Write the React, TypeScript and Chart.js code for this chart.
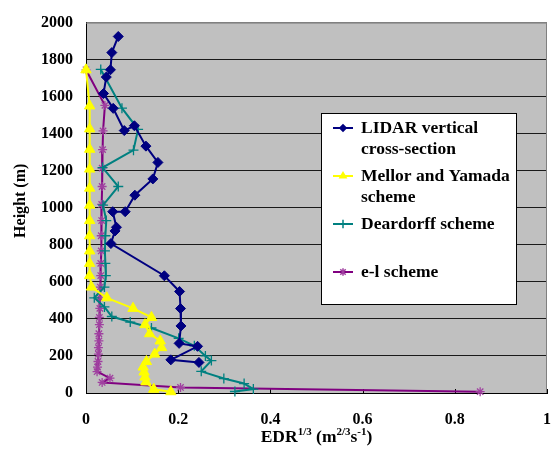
import React, { useEffect, useRef } from "react";
import { Chart, registerables } from "chart.js";

Chart.register(...registerables);

// ---- Data (EDR^1/3 in m^2/3 s^-1, height in m) ----
const lidarEdr = [0.070, 0.056, 0.053, 0.044, 0.038, 0.059, 0.083, 0.105, 0.130, 0.156, 0.145, 0.106, 0.085, 0.058, 0.066, 0.063, 0.054, 0.170, 0.203, 0.205, 0.206, 0.202, 0.242, 0.184, 0.245];
const lidarHeight = [1925, 1838, 1745, 1706, 1617, 1537, 1417, 1443, 1333, 1245, 1156, 1068, 979, 979, 895, 875, 807, 633, 548, 456, 362, 268, 252, 179, 165];

const mellorEdr = [0, 0.008, 0.008, 0.008, 0.008, 0.008, 0.008, 0.008, 0.008, 0.008, 0.008, 0.008, 0.012, 0.045, 0.102, 0.142, 0.128, 0.138, 0.161, 0.164, 0.149, 0.131, 0.124, 0.126, 0.128, 0.130, 0.147, 0.184];
const mellorHeight = [1745, 1550, 1426, 1316, 1209, 1106, 1014, 931, 849, 767, 700, 634, 572, 514, 457, 408, 369, 320, 281, 245, 210, 170, 140, 113, 86, 60, 20, 7];

const deardorffEdr = [0.032, 0.078, 0.113, 0.103, 0.036, 0.070, 0.037, 0.044, 0.042, 0.041, 0.042, 0.043, 0.040, 0.018, 0.040, 0.056, 0.096, 0.142, 0.201, 0.235, 0.259, 0.272, 0.250, 0.299, 0.343, 0.363, 0.323];
const deardorffHeight = [1747, 1538, 1424, 1311, 1217, 1115, 1014, 931, 849, 767, 700, 634, 572, 514, 465, 413, 383, 351, 295, 255, 200, 175, 117, 78, 51, 21, 8];

const elEdr = [0, 0.041, 0.037, 0.036, 0.035, 0.035, 0.034, 0.034, 0.033, 0.033, 0.032, 0.032, 0.031, 0.030, 0.030, 0.029, 0.029, 0.028, 0.028, 0.027, 0.027, 0.026, 0.025, 0.024, 0.052, 0.035, 0.205, 0.855];
const elHeight = [1745, 1553, 1415, 1314, 1214, 1115, 1018, 931, 849, 767, 700, 634, 572, 514, 457, 408, 369, 320, 281, 245, 210, 170, 140, 115, 80, 57, 30, 7];

const seriesNames = [
  ["LIDAR vertical", "cross-section"],
  ["Mellor and Yamada", "scheme"],
  ["Deardorff scheme"],
  ["e-l scheme"],
];
const seriesColors = ["#000080", "#FFFF00", "#008080", "#800080"];
const markerColors = ["#000080", "#FFFF00", "#008080", "#a040a0"];
const markerStyles = ["rectRot", "triangle", "cross", "star"];
const markerRadius = [5, 6, 5, 4.5];

const xTicks = [0, 0.2, 0.4, 0.6, 0.8, 1];
const yMin = 0, yMax = 2000, yStep = 200;

const FONT = "'Liberation Serif', 'Times New Roman', serif";

const toPoints = (xs: number[], ys: number[]) => xs.map((x, i) => ({ x, y: ys[i] }));

function drawMarker(ctx: CanvasRenderingContext2D, style: string, x: number, y: number, r: number, color: string) {
  ctx.save();
  ctx.fillStyle = color;
  ctx.strokeStyle = color;
  ctx.lineWidth = 1.5;
  ctx.beginPath();
  if (style === "rectRot") {
    ctx.moveTo(x, y - r); ctx.lineTo(x + r, y); ctx.lineTo(x, y + r); ctx.lineTo(x - r, y); ctx.closePath();
    ctx.fill();
  } else if (style === "triangle") {
    const h = r * 0.866;
    ctx.moveTo(x, y - r); ctx.lineTo(x + h, y + r / 2); ctx.lineTo(x - h, y + r / 2); ctx.closePath();
    ctx.fill();
  } else if (style === "cross") {
    ctx.moveTo(x - r, y); ctx.lineTo(x + r, y); ctx.moveTo(x, y - r); ctx.lineTo(x, y + r);
    ctx.stroke();
  } else {
    const d = r * 0.707;
    ctx.moveTo(x, y - r); ctx.lineTo(x, y + r);
    ctx.moveTo(x - d, y - d); ctx.lineTo(x + d, y + d); ctx.moveTo(x - d, y + d); ctx.lineTo(x + d, y - d);
    ctx.stroke();
  }
  ctx.restore();
}

const decorPlugin = {
  id: "decor",
  beforeDraw(chart: any) {
    const { ctx, chartArea: a } = chart;
    ctx.save();
    ctx.fillStyle = "#ffffff";
    ctx.fillRect(0, 0, chart.width, chart.height);
    ctx.fillStyle = "#C0C0C0";
    ctx.fillRect(a.left, a.top, a.right - a.left, a.bottom - a.top);
    ctx.restore();
  },
  beforeDatasetsDraw(chart: any) {
    const { ctx, chartArea: a, scales } = chart;
    ctx.save();
    ctx.strokeStyle = "#808080";
    ctx.lineWidth = 1;
    ctx.beginPath();
    ctx.moveTo(a.left, a.top + 0.5);
    ctx.lineTo(a.right - 0.5, a.top + 0.5);
    ctx.lineTo(a.right - 0.5, a.bottom);
    ctx.stroke();
    // inside tick marks on x axis
    ctx.strokeStyle = "#000";
    ctx.beginPath();
    xTicks.forEach((v) => {
      const px = Math.round(scales.x.getPixelForValue(v)) + 0.5;
      ctx.moveTo(px, a.bottom);
      ctx.lineTo(px, a.bottom - 4);
    });
    ctx.stroke();
    ctx.restore();
  },
  afterDraw(chart: any) {
    const { ctx, chartArea: a } = chart;
    ctx.save();
    // Legend box
    const lx = 321, ly = 113, lw = 196, lh = 192;
    ctx.fillStyle = "#ffffff";
    ctx.fillRect(lx, ly, lw, lh);
    ctx.strokeStyle = "#000";
    ctx.lineWidth = 1;
    ctx.strokeRect(lx + 0.5, ly + 0.5, lw - 1, lh - 1);
    ctx.font = `bold 17.5px ${FONT}`;
    ctx.textBaseline = "middle";
    ctx.textAlign = "left";
    seriesNames.forEach((lines, i) => {
      const cy = ly + 15 + i * 48;
      ctx.strokeStyle = seriesColors[i];
      ctx.lineWidth = 2;
      ctx.beginPath();
      ctx.moveTo(lx + 12, cy);
      ctx.lineTo(lx + 32, cy);
      ctx.stroke();
      drawMarker(ctx, markerStyles[i], lx + 22, cy, markerRadius[i] * 0.85, markerColors[i]);
      ctx.fillStyle = "#000";
      lines.forEach((t, j) => ctx.fillText(t, lx + 40, cy + j * 21.5));
    });

    // X axis title with superscripts
    const parts: [string, boolean][] = [["EDR", false], ["1/3", true], [" (m", false], ["2/3", true], ["s", false], ["-1", true], [")", false]];
    const big = `bold 17.5px ${FONT}`, small = `bold 11px ${FONT}`;
    let total = 0;
    parts.forEach(([t, sup]) => { ctx.font = sup ? small : big; total += ctx.measureText(t).width; });
    let x = (a.left + a.right) / 2 - total / 2;
    const base = 442;
    ctx.textBaseline = "alphabetic";
    ctx.fillStyle = "#000";
    parts.forEach(([t, sup]) => {
      ctx.font = sup ? small : big;
      ctx.fillText(t, x, sup ? base - 7 : base);
      x += ctx.measureText(t).width;
    });

    // Y axis title
    ctx.translate(21, (a.top + a.bottom) / 2 - 7);
    ctx.rotate(-Math.PI / 2);
    ctx.font = `bold 16px ${FONT}`;
    ctx.textAlign = "center";
    ctx.textBaseline = "middle";
    ctx.fillText("Height (m)", 0, 0);
    ctx.restore();
  },
};

export default function App() {
  const canvasRef = useRef<HTMLCanvasElement | null>(null);

  useEffect(() => {
    if (!canvasRef.current) return;
    const mk = (label: string, xs: number[], ys: number[], i: number) => ({
      label,
      data: toPoints(xs, ys),
      showLine: true,
      borderColor: seriesColors[i],
      backgroundColor: markerColors[i],
      borderWidth: 2,
      pointStyle: markerStyles[i],
      pointRadius: markerRadius[i],
      pointBorderColor: markerColors[i],
      pointBackgroundColor: markerColors[i],
      pointBorderWidth: i >= 2 ? 1.3 : 1,
      tension: 0,
      clip: false,
    });
    const chart = new Chart(canvasRef.current, {
      type: "scatter",
      data: {
        datasets: [
          mk(seriesNames[0].join(" "), lidarEdr, lidarHeight, 0),
          mk(seriesNames[1].join(" "), mellorEdr, mellorHeight, 1),
          mk(seriesNames[2].join(" "), deardorffEdr, deardorffHeight, 2),
          mk(seriesNames[3].join(" "), elEdr, elHeight, 3),
        ] as any,
      },
      options: {
        animation: false,
        responsive: false,
        devicePixelRatio: 1,
        layout: { padding: { top: 16, right: 2, left: 0, bottom: 0 } },
        plugins: { legend: { display: false }, tooltip: { enabled: false } },
        scales: {
          x: {
            type: "linear",
            min: 0,
            max: 1,
            afterFit: (s: any) => { s.height = 60; s.paddingLeft = 0; s.paddingRight = 0; },
            afterBuildTicks: (s: any) => { s.ticks = xTicks.map((v) => ({ value: v })); },
            grid: { display: false, drawTicks: false },
            border: { display: true, color: "#000", width: 1 },
            ticks: {
              padding: 17,
              color: "#000",
              font: { family: FONT, size: 16, weight: "bold" },
              maxRotation: 0,
              autoSkip: false,
              callback: (v: any) => String(Math.round(Number(v) * 10) / 10),
            },
          },
          y: {
            type: "linear",
            min: yMin,
            max: yMax,
            afterFit: (s: any) => { s.width = 86; },
            ticks: {
              stepSize: yStep,
              padding: 13,
              color: "#000",
              font: { family: FONT, size: 16, weight: "bold" },
              callback: (v: any) => String(v),
            },
            grid: {
              drawTicks: false,
              color: (c: any) => (c.tick && c.tick.value === yMax ? "#808080" : "#1a1a1a"),
              lineWidth: 1,
            },
            border: { display: true, color: "#000", width: 1 },
          },
        },
      } as any,
      plugins: [decorPlugin],
    });
    return () => chart.destroy();
  }, []);

  return (
    <div style={{ position: "absolute", left: 0, top: 0, width: 554, height: 453, background: "#fff" }}>
      <canvas ref={canvasRef} width={554} height={453} style={{ display: "block" }} />
    </div>
  );
}
